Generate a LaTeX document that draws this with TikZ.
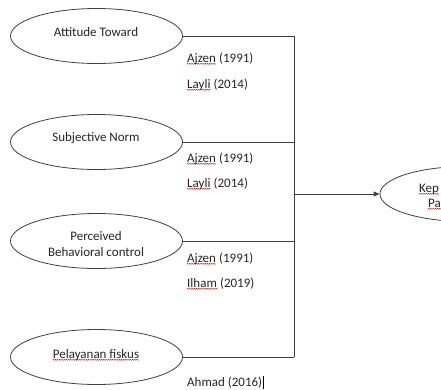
\documentclass[tikz,border=0pt]{standalone}
\usepackage{fontspec}
\setmainfont{Carlito}
\usetikzlibrary{shapes.geometric,arrows.meta,decorations.pathmorphing}
\begin{document}
\begin{tikzpicture}[x=1pt,y=-1pt,
  ell/.style={draw=black!75, line width=0.8pt, ellipse, minimum width=172pt, minimum height=55pt, inner sep=0pt},
  txt/.style={font=\fontsize{13}{15}\selectfont, text=black!85, inner sep=0pt},
  ref/.style={txt, anchor=base west},
  conn/.style={draw=black!75, line width=0.8pt},
  squig/.style={draw=red!85!black, line width=0.4pt, decorate, decoration={snake, amplitude=0.5pt, segment length=2.2pt}},
  caret/.style={draw=black, line width=0.6pt}
]
\useasboundingbox (0,0) rectangle (441,389);
\clip (0,0) rectangle (441,389);
\fill[white] (0,0) rectangle (441,389);
% ellipses
\node[ell] (e1) at (96.5,36) {};
\node[ell] (e2) at (96.5,142) {};
\node[ell] (e3) at (96.5,241) {};
\node[ell] (e4) at (96.5,357) {};
\node[ell] (e5) at (466,194) {};
% ellipse texts
\node[txt, anchor=base] (t1) at (96,36) {Attitude Toward};
\node[txt, anchor=base] (t2) at (96,141) {Subjective Norm};
\node[txt, anchor=base] (t3a) at (96,240) {Perceived};
\node[txt, anchor=base] (t3b) at (96,256) {Behavioral control};
\node[txt, anchor=base] (t4) at (96,358) {Pelayanan fiskus};
\node[ref] (t5a) at (419,192) {Kep};
\node[ref] (t5b) at (428,207) {Pa};
% references
\node[ref] (r1a) at (187,62) {Ajzen};
\node[ref] (r1b) at ([xshift=2.8pt]r1a.base east) {(1991)};
\node[ref] (r2a) at (187,88) {Layli};
\node[ref] (r2b) at ([xshift=2.8pt]r2a.base east) {(2014)};
\node[ref] (r3a) at (187,162) {Ajzen};
\node[ref] (r3b) at ([xshift=2.8pt]r3a.base east) {(1991)};
\node[ref] (r4a) at (187,187) {Layli};
\node[ref] (r4b) at ([xshift=2.8pt]r4a.base east) {(2014)};
\node[ref] (r5a) at (187,262) {Ajzen};
\node[ref] (r5b) at ([xshift=2.8pt]r5a.base east) {(1991)};
\node[ref] (r6a) at (187,287) {Ilham};
\node[ref] (r6b) at ([xshift=2.8pt]r6a.base east) {(2019)};
\node[ref] (r7) at (187,386) {Ahmad (2016)};
\draw[caret] ([xshift=1pt,yshift=-3pt]r7.base east) -- ([xshift=1pt,yshift=10pt]r7.base east);
% spelling squiggles
\foreach \n in {r1a,r2a,r3a,r4a,r5a,r6a,t4,t5a,t5b}{
  \draw[squig] ([yshift=-1.8pt]\n.base west) -- ([yshift=-1.8pt]\n.base east);
}
% connectors
\coordinate (bus) at (294,0);
\draw[conn] (e1.east) -- (e1.east -| bus);
\draw[conn] (e2.east) -- (e2.east -| bus);
\draw[conn] (e3.east) -- (e3.east -| bus);
\draw[conn] (e4.east) -- (e4.east -| bus);
\draw[conn, line cap=rect] (e1.east -| bus) -- (e4.east -| bus);
\draw[conn, -{Triangle[length=6pt,width=5pt]}] (e5.west -| bus) -- (e5.west);
\end{tikzpicture}
\end{document}
